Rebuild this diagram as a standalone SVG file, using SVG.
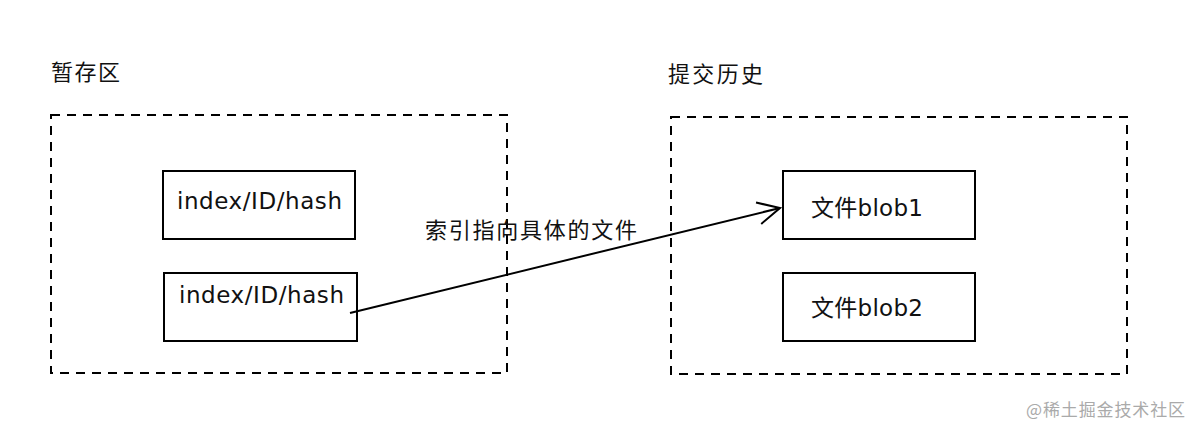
<svg xmlns="http://www.w3.org/2000/svg" width="1202" height="436" viewBox="0 0 1202 436">
<style>
.bg{fill:#fff}
.group{fill:none;stroke:#000;stroke-width:2;stroke-dasharray:9 7}
.box{fill:#fff;stroke:#000;stroke-width:2}
.t{font-family:"DejaVu Sans","Noto Sans CJK SC",sans-serif;font-size:23px;fill:#111}
.cjk{font-family:"Noto Sans CJK SC","DejaVu Sans",sans-serif;font-size:22px;fill:#111}
.wm{font-family:"Noto Sans CJK SC",sans-serif;font-size:17px;fill:#aaa}
.edge{fill:none;stroke:#000;stroke-width:2}
</style>
<defs>
<marker id="open" viewBox="0 0 26 26" refX="23" refY="13" markerWidth="26" markerHeight="26" markerUnits="userSpaceOnUse" orient="auto">
<path d="M1,2 L23,13 L1,24" fill="none" stroke="#000" stroke-width="2"/>
</marker>
</defs>
<rect class="bg" width="1202" height="436"/>
<g id="staging">
<rect class="group" x="51" y="115" width="456" height="258"/>
<text class="cjk" x="51" y="80" textLength="69">暂存区</text>
</g>
<g id="history">
<rect class="group" x="671" y="117" width="456" height="257"/>
<text class="cjk" x="668" y="82" textLength="95">提交历史</text>
</g>
<g id="index1">
<rect class="box" x="163" y="171" width="192" height="68"/>
<text class="t" x="177" y="209" textLength="165">index/ID/hash</text>
</g>
<g id="index2">
<rect class="box" x="164" y="273" width="193" height="68"/>
<text class="t" x="179" y="303" textLength="165">index/ID/hash</text>
</g>
<g id="blob1">
<rect class="box" x="783" y="171" width="192" height="68"/>
<text class="t" x="811" y="216" textLength="112">文件blob1</text>
</g>
<g id="blob2">
<rect class="box" x="783" y="273" width="192" height="68"/>
<text class="t" x="811" y="316" textLength="112">文件blob2</text>
</g>
<g id="connectors">
<path class="edge" d="M350,313 L780,208" marker-end="url(#open)"/>
<text class="cjk" x="425" y="238" textLength="212">索引指向具体的文件</text>
</g>
<text class="wm" x="1026" y="416" textLength="159">@稀土掘金技术社区</text>
</svg>
